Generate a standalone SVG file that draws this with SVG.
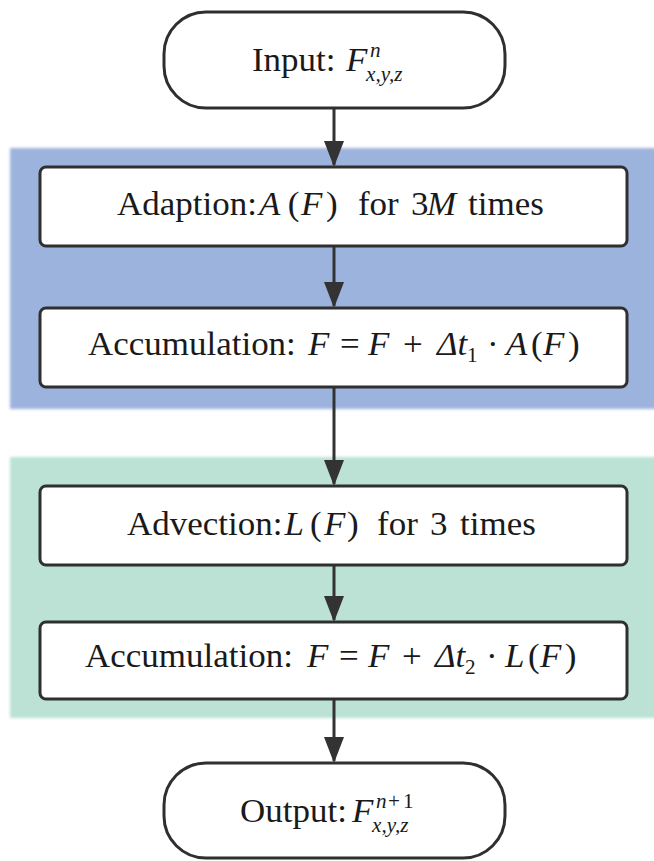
<svg xmlns="http://www.w3.org/2000/svg" width="654" height="861" viewBox="0 0 654 861" xml:space="preserve">
<defs>
<style>
.node{fill:#ffffff;stroke:#2f2f2f;stroke-width:3}
text{font-family:'Liberation Serif','Times New Roman',serif;font-size:33px;fill:#1a1a1a}
.i{font-style:italic}
.s{font-size:20px;font-style:italic}
.n{font-style:normal}
.c{stroke:#333333;stroke-width:3;fill:none;marker-end:url(#ah)}
</style>
<marker id="ah" viewBox="0 0 26 20" refX="24" refY="10" markerWidth="26" markerHeight="20" markerUnits="userSpaceOnUse" orient="auto">
<path d="M0,0 L26,10 L0,20 Z" fill="#333333"/>
</marker>
<filter id="soft" x="-5%" y="-5%" width="110%" height="110%"><feGaussianBlur stdDeviation="1.5"/></filter>
</defs>
<rect width="654" height="861" fill="#ffffff"/>
<g id="bands">
<rect x="10" y="148" width="650" height="261" fill="#9cb3dd" filter="url(#soft)"/>
<rect x="10" y="457" width="650" height="261" fill="#bbe2d5" filter="url(#soft)"/>
</g>
<g id="connectors">
<line class="c" x1="334" y1="108" x2="334" y2="165"/>
<line class="c" x1="334" y1="246" x2="334" y2="306"/>
<line class="c" x1="334" y1="387" x2="334" y2="484"/>
<line class="c" x1="334" y1="565" x2="334" y2="620"/>
<line class="c" x1="334" y1="699" x2="334" y2="761"/>
</g>
<g id="input">
<rect class="node" x="164" y="12" width="341" height="96" rx="42"/>
<text transform="scale(1.06,1)"><tspan x="237.7" y="71">Input:</tspan><tspan class="i" x="326.4" y="71">F</tspan><tspan class="s" x="349.1" y="57">n</tspan><tspan class="s" x="345.3" y="81">x,y,z</tspan></text>
</g>
<g id="adaption">
<rect class="node" x="40" y="167" width="587" height="79" rx="6"/>
<text transform="scale(1.06,1)"><tspan x="110.4" y="215">Adaption:</tspan><tspan class="i" x="244.3" y="215">A</tspan><tspan x="271.5" y="215">(</tspan><tspan class="i" x="284" y="215">F</tspan><tspan x="307.5" y="215">)</tspan><tspan x="337.7" y="215">for</tspan><tspan x="387.7" y="215">3</tspan><tspan class="i" x="402.8" y="215">M</tspan><tspan x="441.5" y="215">times</tspan></text>
</g>
<g id="accumulation1">
<rect class="node" x="40" y="308" width="587" height="79" rx="6"/>
<text transform="scale(1.06,1)"><tspan x="83" y="355">Accumulation:</tspan><tspan class="i" x="290.6" y="355">F</tspan><tspan x="320.8" y="355">=</tspan><tspan class="i" x="347.2" y="355">F</tspan><tspan x="380.2" y="355">+</tspan><tspan class="i" x="412.3" y="355">Δt</tspan><tspan class="s n" x="440.6" y="362">1</tspan><tspan x="459.4" y="355">·</tspan><tspan class="i" x="477.4" y="355">A</tspan><tspan x="500.9" y="355">(</tspan><tspan class="i" x="512.3" y="355">F</tspan><tspan x="535.8" y="355">)</tspan></text>
</g>
<g id="advection">
<rect class="node" x="40" y="486" width="587" height="79" rx="6"/>
<text transform="scale(1.06,1)"><tspan x="119.8" y="535">Advection:</tspan><tspan class="i" x="268.4" y="535">L</tspan><tspan x="292.5" y="535">(</tspan><tspan class="i" x="305.7" y="535">F</tspan><tspan x="327.4" y="535">)</tspan><tspan x="355.7" y="535">for</tspan><tspan x="405.7" y="535">3</tspan><tspan x="434" y="535">times</tspan></text>
</g>
<g id="accumulation2">
<rect class="node" x="40" y="622" width="587" height="77" rx="6"/>
<text transform="scale(1.06,1)"><tspan x="80.2" y="667">Accumulation:</tspan><tspan class="i" x="289.6" y="667">F</tspan><tspan x="319.8" y="667">=</tspan><tspan class="i" x="347.2" y="667">F</tspan><tspan x="379.2" y="667">+</tspan><tspan class="i" x="410.4" y="667">Δt</tspan><tspan class="s n" x="438.7" y="674">2</tspan><tspan x="458.5" y="667">·</tspan><tspan class="i" x="476.4" y="667">L</tspan><tspan x="498.1" y="667">(</tspan><tspan class="i" x="509.4" y="667">F</tspan><tspan x="532.9" y="667">)</tspan></text>
</g>
<g id="output">
<rect class="node" x="164" y="763" width="341" height="95" rx="42"/>
<text transform="scale(1.06,1)"><tspan x="226.4" y="822">Output:</tspan><tspan class="i" x="332" y="822">F</tspan><tspan class="s" x="354.7" y="808">n</tspan><tspan class="s n" x="366" y="808">+</tspan><tspan class="s n" x="380.2" y="808">1</tspan><tspan class="s" x="351" y="832">x,y,z</tspan></text>
</g>
</svg>
